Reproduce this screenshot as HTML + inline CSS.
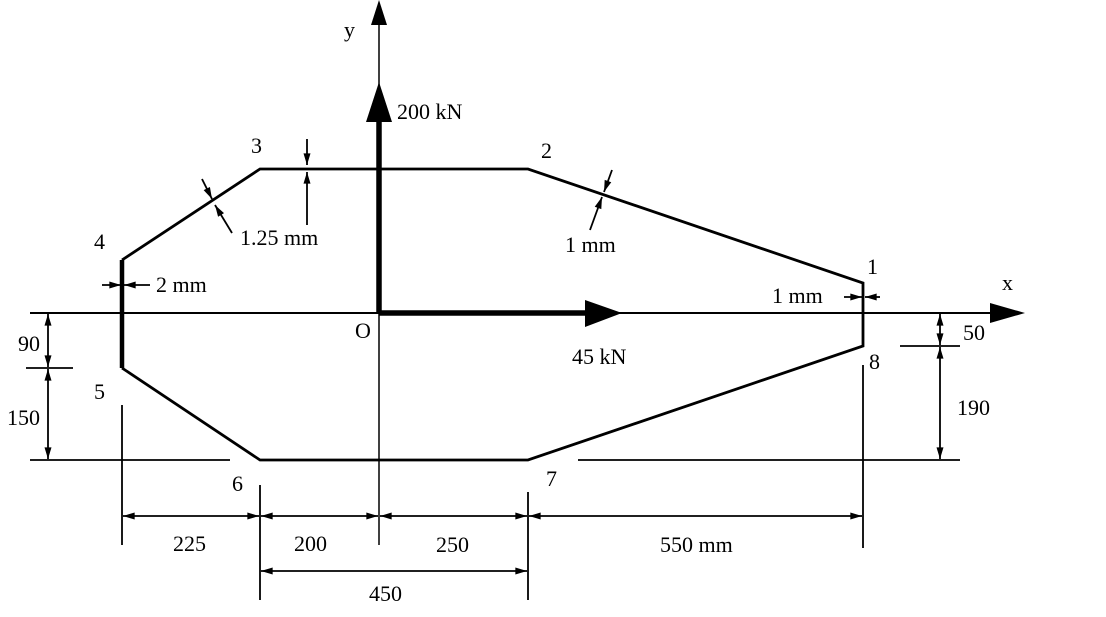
<!DOCTYPE html>
<html><head><style>
html,body{margin:0;padding:0;background:#fff;}
svg text{font-family:"Liberation Serif",serif;font-size:22px;fill:#000;}
</style></head><body>
<svg width="1106" height="612" viewBox="0 0 1106 612" xmlns="http://www.w3.org/2000/svg">
<defs>
<marker id="a" viewBox="0 0 10 6" refX="10" refY="3" markerWidth="12" markerHeight="7" markerUnits="userSpaceOnUse" orient="auto"><path d="M0,0L10,3L0,6z" fill="#000"/></marker>
</defs>
<g stroke="#000" fill="none">
<line x1="30" y1="313" x2="1000" y2="313" stroke-width="2"/>
<path d="M990,303L1025,313L990,323z" fill="#000" stroke="none"/>
<line x1="379" y1="20" x2="379" y2="545" stroke-width="1.5"/>
<path d="M371,25L379,0L387,25z" fill="#000" stroke="none"/>
<line x1="379" y1="313" x2="379" y2="120" stroke-width="5.5"/>
<path d="M366,122L379,82L392,122z" fill="#000" stroke="none"/>
<line x1="379" y1="313" x2="590" y2="313" stroke-width="5.5"/>
<path d="M585,300L622,313L585,327z" fill="#000" stroke="none"/>
<line x1="122" y1="260" x2="122" y2="368" stroke-width="4.5"/>
<polyline points="122,260 260,169 528,169 863,283 863,346 528,460 260,460 122,368" stroke-width="2.8" stroke-linejoin="miter"/>
<line x1="30" y1="460" x2="230" y2="460" stroke-width="1.8"/>
<line x1="578" y1="460" x2="960" y2="460" stroke-width="1.8"/>
<line x1="122" y1="405" x2="122" y2="545" stroke-width="1.8"/>
<line x1="260" y1="485" x2="260" y2="600" stroke-width="1.8"/>
<line x1="528" y1="492" x2="528" y2="600" stroke-width="1.8"/>
<line x1="863" y1="365" x2="863" y2="548" stroke-width="1.8"/>
<line x1="26" y1="368" x2="73" y2="368" stroke-width="1.8"/>
<line x1="900" y1="346" x2="960" y2="346" stroke-width="1.8"/>
<g stroke-width="1.8" marker-end="url(#a)">
<line x1="190" y1="516" x2="123" y2="516"/>
<line x1="190" y1="516" x2="259" y2="516"/>
<line x1="320" y1="516" x2="261" y2="516"/>
<line x1="320" y1="516" x2="378" y2="516"/>
<line x1="450" y1="516" x2="380" y2="516"/>
<line x1="450" y1="516" x2="527" y2="516"/>
<line x1="700" y1="516" x2="529" y2="516"/>
<line x1="700" y1="516" x2="862" y2="516"/>
<line x1="400" y1="571" x2="261" y2="571"/>
<line x1="400" y1="571" x2="527" y2="571"/>
<line x1="48" y1="340" x2="48" y2="314"/>
<line x1="48" y1="340" x2="48" y2="367"/>
<line x1="48" y1="410" x2="48" y2="369"/>
<line x1="48" y1="410" x2="48" y2="459"/>
<line x1="940" y1="330" x2="940" y2="314"/>
<line x1="940" y1="330" x2="940" y2="345"/>
<line x1="940" y1="400" x2="940" y2="347"/>
<line x1="940" y1="400" x2="940" y2="459"/>
<line x1="102" y1="285" x2="121" y2="285"/>
<line x1="150" y1="285" x2="124" y2="285"/>
<line x1="844" y1="297" x2="862" y2="297"/>
<line x1="880" y1="297" x2="865" y2="297"/>
<line x1="307" y1="139" x2="307" y2="165"/>
<line x1="307" y1="225" x2="307" y2="172"/>
<line x1="202" y1="179" x2="212" y2="199"/>
<line x1="232" y1="233" x2="215" y2="205"/>
<line x1="612" y1="170" x2="604" y2="192"/>
<line x1="590" y1="230" x2="602" y2="197"/>
</g>
</g>
<text x="344" y="37">y</text>
<text x="1002" y="290">x</text>
<text x="397" y="119">200 kN</text>
<text x="572" y="364">45 kN</text>
<text x="355" y="338">O</text>
<text x="251" y="153">3</text>
<text x="541" y="158">2</text>
<text x="94" y="249">4</text>
<text x="867" y="274">1</text>
<text x="94" y="399">5</text>
<text x="869" y="369">8</text>
<text x="232" y="491">6</text>
<text x="546" y="486">7</text>
<text x="240" y="245">1.25 mm</text>
<text x="565" y="252">1 mm</text>
<text x="156" y="292">2 mm</text>
<text x="772" y="303">1 mm</text>
<text x="18" y="351">90</text>
<text x="7" y="425">150</text>
<text x="963" y="340">50</text>
<text x="957" y="415">190</text>
<text x="173" y="551">225</text>
<text x="294" y="551">200</text>
<text x="436" y="552">250</text>
<text x="660" y="552">550 mm</text>
<text x="369" y="601">450</text>
</svg>
</body></html>
